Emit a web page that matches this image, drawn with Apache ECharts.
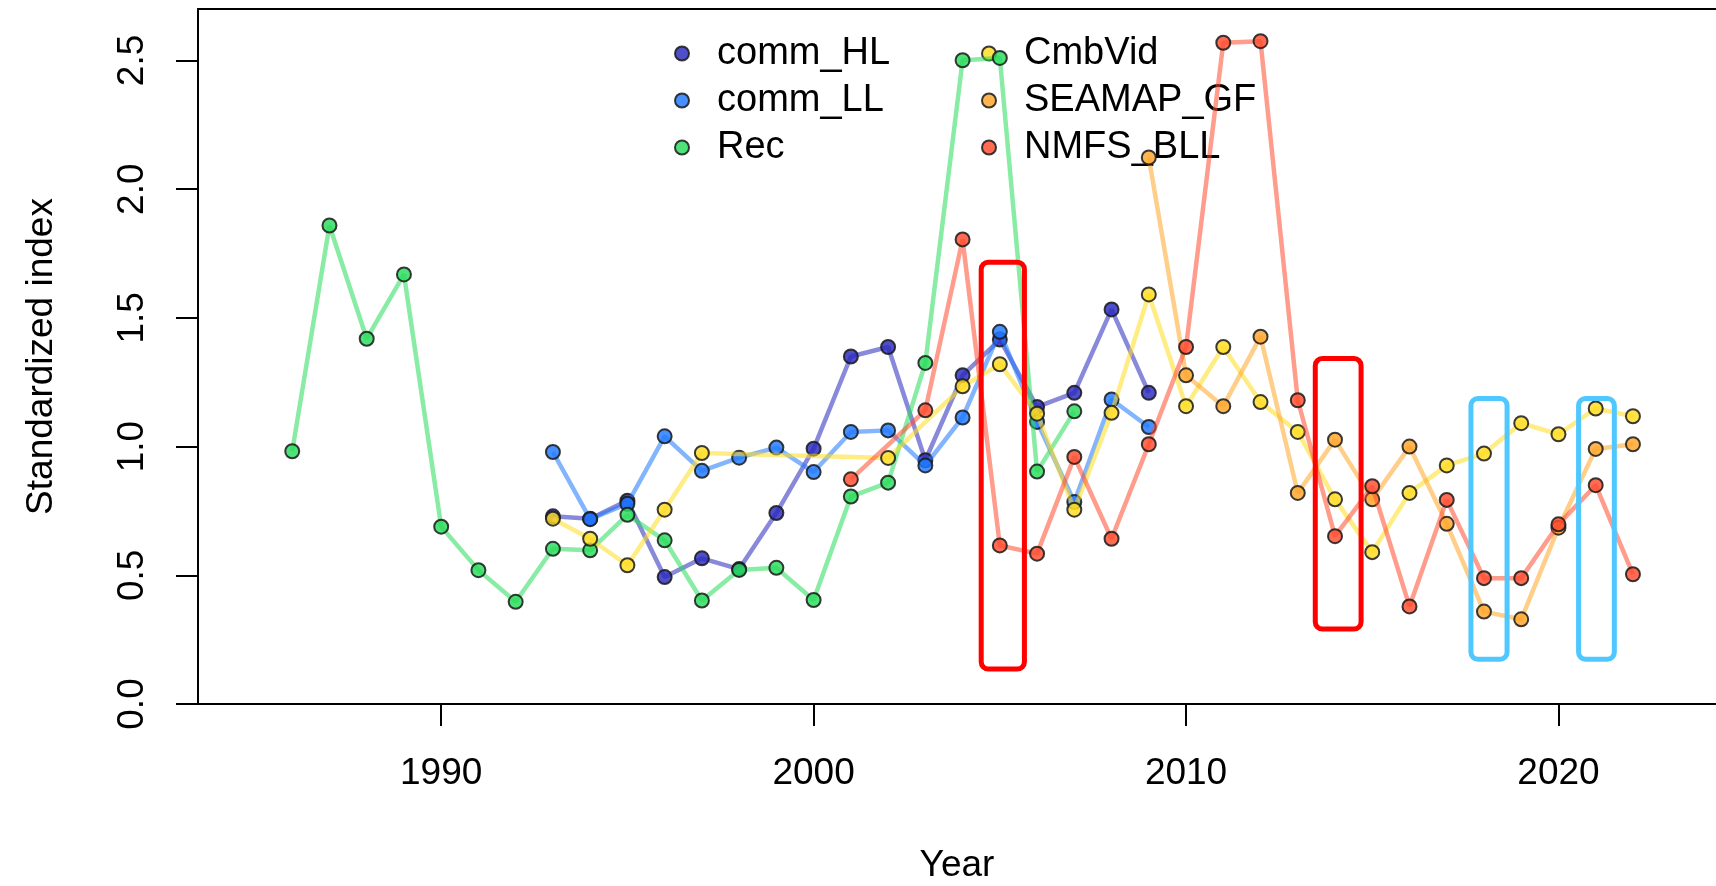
<!DOCTYPE html>
<html>
<head>
<meta charset="utf-8">
<script src="https://cdn.jsdelivr.net/npm/echarts@6/dist/echarts.min.js"></script>
<style>
html,body{margin:0;padding:0;background:#fff;}
#chart{width:1716px;height:886px;}
</style>
</head>
<body>
<div id="chart"></div>
<script>
// ---- data ----
const seriesNames = ['comm_HL', 'comm_LL', 'Rec', 'CmbVid', 'SEAMAP_GF', 'NMFS_BLL'];

const commHLYears = [1993,1994,1995,1996,1997,1998,1999,2000,2001,2002,2003,2004,2005,2006,2007,2008,2009];
const commHLValues = [0.729,0.720,0.790,0.493,0.566,0.524,0.742,0.992,1.350,1.387,0.947,1.277,1.416,1.154,1.209,1.533,1.209];

const commLLYears = [1993,1994,1995,1996,1997,1998,1999,2000,2001,2002,2003,2004,2005,2006,2007,2008,2009];
const commLLValues = [0.979,0.718,0.778,1.040,0.906,0.957,0.996,0.901,1.057,1.063,0.927,1.113,1.446,1.096,0.785,1.183,1.076];

const recYears = [1986,1987,1988,1989,1990,1991,1992,1993,1994,1995,1996,1997,1998,1999,2000,2001,2002,2003,2004,2005,2006,2007];
const recValues = [0.982,1.859,1.419,1.669,0.689,0.520,0.397,0.603,0.597,0.735,0.636,0.402,0.521,0.529,0.404,0.806,0.860,1.325,2.501,2.510,0.903,1.137];

const cmbVidYears = [1993,1994,1995,1996,1997,2002,2004,2005,2006,2007,2008,2009,2010,2011,2012,2013,2014,2015,2016,2017,2018,2019,2020,2021,2022];
const cmbVidValues = [0.720,0.642,0.539,0.755,0.975,0.956,1.234,1.320,1.128,0.755,1.131,1.591,1.157,1.387,1.173,1.057,0.795,0.590,0.820,0.927,0.973,1.091,1.048,1.148,1.118];

const seamapYears = [2009,2010,2011,2012,2013,2014,2015,2016,2017,2018,2019,2020,2021,2022];
const seamapValues = [2.123,1.277,1.157,1.427,0.820,1.027,0.795,1.000,0.700,0.359,0.329,0.685,0.991,1.009];

const nmfsYears = [2001,2003,2004,2005,2006,2007,2008,2009,2010,2011,2012,2013,2014,2015,2016,2017,2018,2019,2020,2021,2022];
const nmfsValues = [0.873,1.141,1.805,0.616,0.584,0.960,0.642,1.009,1.387,2.569,2.575,1.180,0.652,0.846,0.379,0.793,0.489,0.489,0.698,0.850,0.504];

// highlight boxes: [yearStart, yearEnd, low, high]
const redBoxes = [[2004.50, 2005.66, 0.136, 1.716], [2013.47, 2014.70, 0.291, 1.342]];
const cyanBoxes = [[2017.65, 2018.62, 0.174, 1.187], [2020.54, 2021.50, 0.174, 1.187]];

const xTickValues = [1990, 2000, 2010, 2020];
const xMin = 1983.47, xMax = 2024.23;
const yMin = 0, yMax = 2.7, yTickInterval = 0.5;

// ---- styling ----
const FONT = 'Liberation Sans, Arial, sans-serif';
const baseColors = [
  [40, 40, 190],
  [30, 120, 255],
  [40, 220, 90],
  [255, 220, 30],
  [255, 165, 40],
  [255, 75, 45]
];
const rgba = (c, a) => `rgba(${c[0]},${c[1]},${c[2]},${a})`;
const zip = (xs, ys) => xs.map((x, i) => [x, ys[i]]);

const seriesData = [
  zip(commHLYears, commHLValues),
  zip(commLLYears, commLLValues),
  zip(recYears, recValues),
  zip(cmbVidYears, cmbVidValues),
  zip(seamapYears, seamapValues),
  zip(nmfsYears, nmfsValues)
];

const lineSeries = seriesNames.map((name, i) => ({
  name: name,
  type: 'line',
  data: seriesData[i],
  xAxisIndex: 0,
  symbol: 'circle',
  symbolSize: 14,
  showSymbol: true,
  animation: false,
  lineStyle: { color: rgba(baseColors[i], 0.55), width: 4.5 },
  itemStyle: { color: rgba(baseColors[i], 0.82), borderColor: 'rgba(25,25,25,0.85)', borderWidth: 2 },
  emphasis: { disabled: true },
  z: 2 + i
}));

function boxSeries(data, color) {
  return {
    type: 'custom',
    data: data,
    xAxisIndex: 0,
    animation: false,
    silent: true,
    z: 20,
    renderItem: function (params, api) {
      const p0 = api.coord([api.value(0), api.value(3)]);
      const p1 = api.coord([api.value(1), api.value(2)]);
      return {
        type: 'rect',
        shape: { x: p0[0], y: p0[1], width: p1[0] - p0[0], height: p1[1] - p0[1], r: 7 },
        style: { fill: 'none', stroke: color, lineWidth: 5 }
      };
    }
  };
}

const legendCommon = {
  orient: 'vertical',
  icon: 'circle',
  itemWidth: 60,
  itemHeight: 14,
  itemGap: 0,
  padding: 0,
  selectedMode: false,
  textStyle: { fontFamily: FONT, fontSize: 38, color: '#000', lineHeight: 47 }
};

const option = {
  backgroundColor: '#fff',
  animation: false,
  grid: { left: 198, right: 0, top: 9, bottom: 182, show: false, containLabel: false, outerBoundsMode: 'none' },
  legend: [
    Object.assign({}, legendCommon, { left: 674, top: 30, data: seriesNames.slice(0, 3) }),
    Object.assign({}, legendCommon, { left: 981, top: 30, data: seriesNames.slice(3) })
  ],
  xAxis: [{
    type: 'value',
    position: 'bottom',
    min: xMin,
    max: xMax,
    name: 'Year',
    nameLocation: 'middle',
    nameGap: 143,
    nameTextStyle: { fontFamily: FONT, fontSize: 37, color: '#000', verticalAlign: 'top' },
    axisLine: { show: true, onZero: false, lineStyle: { color: '#000', width: 2 } },
    axisTick: { show: true, length: 22, customValues: xTickValues, lineStyle: { color: '#000', width: 2 } },
    axisLabel: { customValues: xTickValues, margin: 51, fontFamily: FONT, fontSize: 37, color: '#000',
      formatter: v => String(v) },
    splitLine: { show: false }
  }, {
    type: 'value',
    position: 'top',
    min: xMin,
    max: xMax,
    axisLine: { show: true, onZero: false, lineStyle: { color: '#000', width: 2 } },
    axisTick: { show: false },
    axisLabel: { show: false },
    splitLine: { show: false }
  }],
  yAxis: {
    type: 'value',
    min: yMin,
    max: yMax,
    interval: yTickInterval,
    name: 'Standardized index',
    nameLocation: 'middle',
    nameRotate: 90,
    nameGap: 138,
    nameTextStyle: { fontFamily: FONT, fontSize: 37, color: '#000' },
    axisLine: { show: true, lineStyle: { color: '#000', width: 2 } },
    axisTick: { show: true, length: 22, lineStyle: { color: '#000', width: 2 } },
    axisLabel: { rotate: 90, margin: 47, fontFamily: FONT, fontSize: 37, color: '#000',
      showMaxLabel: false,
      formatter: v => v.toFixed(1) },
    splitLine: { show: false }
  },
  series: lineSeries.concat([boxSeries(redBoxes, '#ff0000'), boxSeries(cyanBoxes, '#4fc8ff')])
};

const chart = echarts.init(document.getElementById('chart'), null, { renderer: 'canvas' });
chart.setOption(option);
</script>
</body>
</html>
